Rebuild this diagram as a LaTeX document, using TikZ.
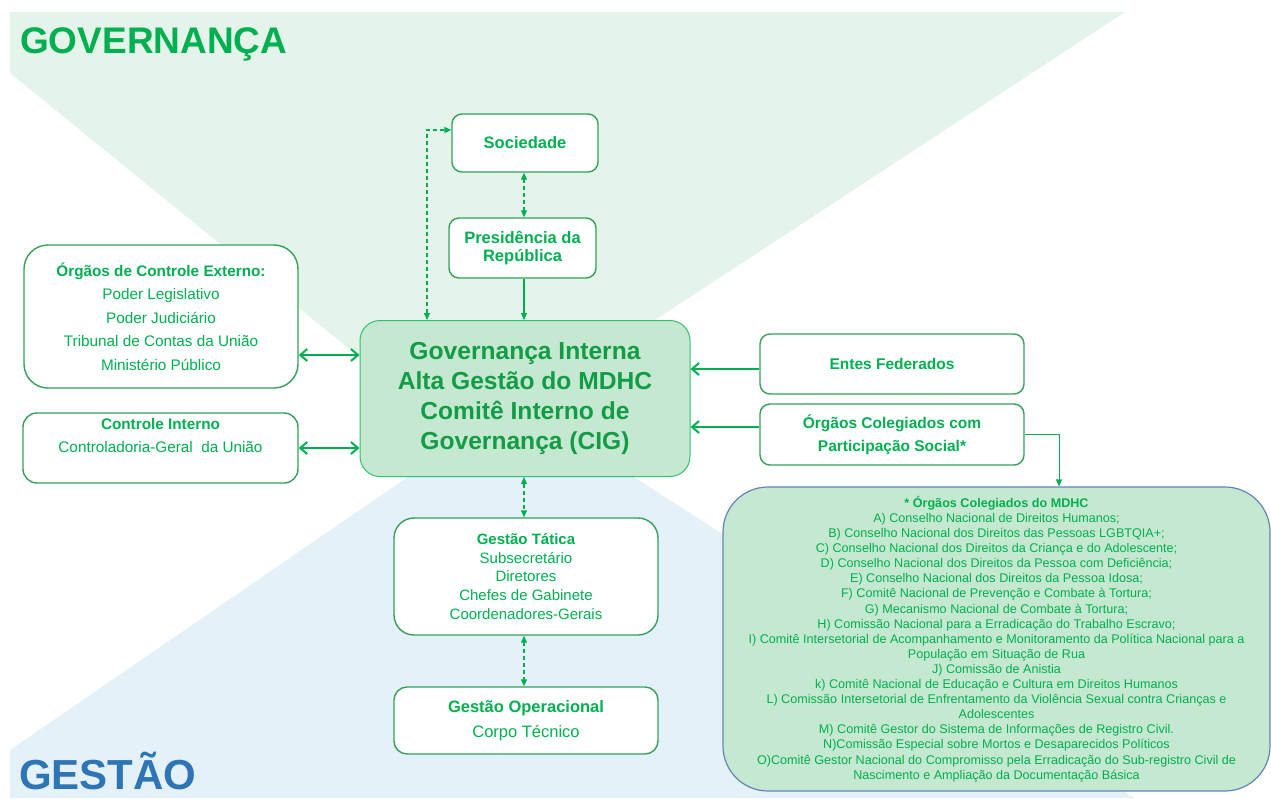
\documentclass[tikz,border=0pt]{standalone}
\usepackage{fontspec}
\setmainfont{Liberation Sans}
\usepackage{tikz}
\usetikzlibrary{arrows.meta,positioning}
\definecolor{V}{RGB}{0,176,80}
\definecolor{VE}{RGB}{52,160,92}
\definecolor{CT}{RGB}{18,156,70}
\definecolor{FV}{RGB}{228,244,234}
\definecolor{FA}{RGB}{229,241,248}
\definecolor{CC}{RGB}{197,232,208}
\definecolor{AZ}{RGB}{46,117,182}
\definecolor{BA}{RGB}{96,134,182}

\begin{document}
\begin{tikzpicture}[x=1pt,y=-1pt,
    caixa/.style={draw=VE, line width=1.4pt, fill=white, rounded corners=12pt,
        inner sep=0pt, align=center, text=V},
    texto/.style={inner sep=0pt, align=center, text=V},
    dupla/.style={draw=V, line width=2pt, {Straight Barb[length=7pt,width=12pt]}-{Straight Barb[length=7pt,width=12pt]}},
    simples/.style={draw=V, line width=2pt, -{Straight Barb[length=7pt,width=12pt]}},
    tracejada/.style={draw=V, line width=1.2pt, dash pattern=on 4pt off 3pt,
        {Triangle[length=7pt,width=6pt]}-{Triangle[length=7pt,width=6pt]}},
    fina/.style={draw=V, line width=1.2pt, -{Triangle[length=7pt,width=6pt]}}]

    \useasboundingbox (0,0) rectangle (1271,798);

    %Fundo verde da governanca
    \fill[FV] (10,12) -- (1125,12) -- (466,444) -- (10,73) -- cycle;
    %Fundo azul da gestao
    \fill[FA] (517,402) -- (1134,798) -- (10,798) -- (10,750) -- cycle;

    \draw (20,53) node[anchor=base west, inner sep=0pt, text=V,
        font=\bfseries\fontsize{37}{37}\selectfont] (gov) {GOVERNANÇA};
    \draw (19,789) node[anchor=base west, inner sep=0pt, text=AZ,
        font=\bfseries\fontsize{42}{42}\selectfont] (ges) {GESTÃO};

    %Caixas de cima
    \node[caixa, minimum width=146, minimum height=58, rounded corners=10pt,
        font=\bfseries\fontsize{16.5}{18}\selectfont] (soc) at (525,143) {Sociedade};
    \node[caixa, minimum width=147, minimum height=60, rounded corners=10pt,
        font=\bfseries\fontsize{16.5}{17.5}\selectfont] (pres) at (522.5,248) {Presidência da\\República};

    %Controle externo e interno
    \node[caixa, minimum width=274, minimum height=143, rounded corners=24pt,
        font=\fontsize{15.3}{23.5}\selectfont] (ext) at (161,316.5)
        {\textbf{Órgãos de Controle Externo:}\\Poder Legislativo\\Poder Judiciário\\
         Tribunal de Contas da União\\Ministério Público};
    \node[caixa, minimum width=275, minimum height=70, rounded corners=14pt] (ci) at (160.5,448) {};
    \node[texto, below=6pt of ci.north, font=\fontsize{15.3}{23}\selectfont] (citxt)
        {\textbf{Controle Interno}\\Controladoria-Geral\ \ da União};

    %Caixa central
    \node[caixa, draw=V!80!white, line width=1pt, fill=CC, text=CT, rounded corners=20pt,
        minimum width=330, minimum height=156,
        font=\bfseries\fontsize{24.6}{30}\selectfont] (cig) at (525,398.5)
        {Governança Interna\\Alta Gestão do MDHC\\Comitê Interno de\\Governança (CIG)};

    %Caixas da direita
    \node[caixa, minimum width=264, minimum height=60, rounded corners=10pt,
        font=\bfseries\fontsize{15.5}{23}\selectfont] (entes) at (892,364) {Entes Federados};
    \node[caixa, minimum width=264, minimum height=61, rounded corners=10pt,
        font=\bfseries\fontsize{15.5}{23}\selectfont] (coleg) at (892,434.5)
        {Órgãos Colegiados com\\Participação Social*};

    %Gestao tatica e operacional
    \node[caixa, minimum width=264, minimum height=117, rounded corners=20pt,
        font=\fontsize{15}{18.7}\selectfont] (tat) at (526,576.5)
        {\textbf{Gestão Tática}\\Subsecretário\\Diretores\\Chefes\ de Gabinete\\Coordenadores-Gerais};
    \node[caixa, minimum width=264, minimum height=67, rounded corners=13pt,
        font=\fontsize{16.5}{25}\selectfont] (oper) at (526,720.5)
        {\textbf{Gestão Operacional}\\Corpo Técnico};

    %Lista dos orgaos colegiados
    \node[caixa, draw=BA, line width=1.2pt, fill=CC, rounded corners=45pt,
        minimum width=547, minimum height=304,
        font=\fontsize{12.6}{15.1}\selectfont] (mdhc) at (996.5,639)
        {\textbf{* Órgãos Colegiados do MDHC}\\
         A) Conselho Nacional de Direitos Humanos;\\
         B) Conselho Nacional dos Direitos das Pessoas LGBTQIA+;\\
         C) Conselho Nacional dos Direitos da Criança e do Adolescente;\\
         D) Conselho Nacional dos Direitos da Pessoa com Deficiência;\\
         E) Conselho Nacional dos Direitos da Pessoa Idosa;\\
         F) Comitê Nacional de Prevenção e Combate à Tortura;\\
         G) Mecanismo Nacional de Combate à Tortura;\\
         H) Comissão Nacional para a Erradicação do Trabalho Escravo;\\
         I) Comitê Intersetorial de Acompanhamento e Monitoramento da Política Nacional para a\\
         População em Situação de Rua\\
         J) Comissão de Anistia\\
         k) Comitê Nacional de Educação e Cultura em Direitos Humanos\\
         L) Comissão Intersetorial de Enfrentamento da Violência Sexual contra Crianças e\\
         Adolescentes\\
         M) Comitê Gestor do Sistema de Informações de Registro Civil.\\
         N)Comissão Especial sobre Mortos e Desaparecidos Políticos\\
         O)Comitê Gestor Nacional do Compromisso pela Erradicação do Sub-registro Civil de\\
         Nascimento e Ampliação da Documentação Básica};

    %Conectores
    \draw[tracejada] ([xshift=-98pt]cig.north) |- ([yshift=13pt]soc.west);
    \draw[tracejada] ([xshift=-1pt]soc.south) -- ([xshift=-1pt]soc.south |- pres.north);
    \draw[fina] ([xshift=1.5pt]pres.south) -- ([xshift=1.5pt]pres.south |- cig.north);
    \draw[dupla] ([yshift=-38.5pt]ext.east) -- ([yshift=-38.5pt]ext.east -| cig.west);
    \draw[dupla] (ci.east) -- (ci.east -| cig.west);
    \draw[simples] ([yshift=-5pt]entes.west) -- ([yshift=-5pt]entes.west -| cig.east);
    \draw[simples] ([yshift=7.5pt]coleg.west) -- ([yshift=7.5pt]coleg.west -| cig.east);
    \draw[fina, line width=1pt] (coleg.east) -| ([xshift=62.5pt]mdhc.north);
    \draw[tracejada] ([xshift=-1pt]cig.south) -- ([xshift=-1pt]cig.south |- tat.north);
    \draw[tracejada] ([xshift=-2pt]tat.south) -- ([xshift=-2pt]tat.south |- oper.north);
\end{tikzpicture}
\end{document}
